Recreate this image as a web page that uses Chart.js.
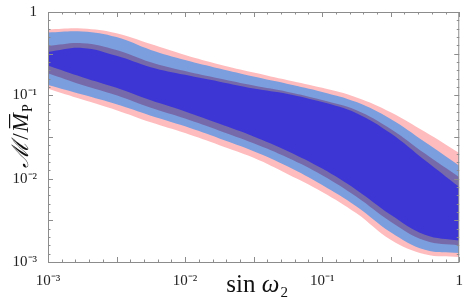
<!DOCTYPE html>
<html>
<head>
<meta charset="utf-8">
<script src="https://cdn.jsdelivr.net/npm/chart.js@4.4.1/dist/chart.umd.min.js"></script>
<style>
  html, body { margin: 0; padding: 0; background: #fff; }
  #wrap { width: 465px; height: 300px; }
</style>
</head>
<body>
<div id="wrap"><canvas id="myChart" width="465" height="300"></canvas></div>
<script>
// sin(omega_2) sample points
const sinW = [0.001, 0.00178, 0.00316, 0.00562, 0.01, 0.0178, 0.0316, 0.0562, 0.1, 0.178, 0.316, 0.562, 1];

// band edges, M / Mbar_P
const pinkUpper   = [0.617, 0.633, 0.555, 0.412, 0.305, 0.235, 0.188, 0.152, 0.123, 0.0944, 0.0628, 0.0365, 0.0203];
const lightUpper  = [0.569, 0.584, 0.500, 0.351, 0.266, 0.210, 0.168, 0.137, 0.110, 0.0830, 0.0520, 0.0275, 0.0143];
const purpleUpper = [0.391, 0.423, 0.351, 0.250, 0.196, 0.159, 0.131, 0.110, 0.0880, 0.0663, 0.0395, 0.0200, 0.0104];
const innerUpper  = [0.332, 0.370, 0.298, 0.218, 0.176, 0.146, 0.121, 0.104, 0.0830, 0.0611, 0.0350, 0.0166, 0.00794];
const innerLower  = [0.228, 0.165, 0.123, 0.0870, 0.0640, 0.0455, 0.0321, 0.0214, 0.0132, 0.00733, 0.00370, 0.00213, 0.00181];
const purpleLower = [0.184, 0.133, 0.100, 0.0710, 0.0527, 0.0377, 0.0266, 0.0178, 0.0110, 0.00607, 0.00305, 0.00181, 0.00158];
const lightLower  = [0.133, 0.102, 0.0779, 0.0570, 0.0425, 0.0304, 0.0214, 0.0140, 0.00837, 0.00464, 0.00228, 0.00140, 0.00128];
const pinkLower   = [0.120, 0.0891, 0.0663, 0.0475, 0.0352, 0.0252, 0.0178, 0.0113, 0.00694, 0.00384, 0.00185, 0.00124, 0.00115];

const decades = [-3, -2, -1, 0];

const sup = {'-': '\u207B', '0': '\u2070', '1': '\u00B9', '2': '\u00B2', '3': '\u00B3'};
function powLabel(n) {
    if (n === 0) return '1';
    return '10' + String(n).split('').map(c => sup[c]).join('');
}
function tickCb(value) {
    const l = Math.log10(value);
    const r = Math.round(l);
    if (Math.abs(l - r) < 1e-6 && decades.includes(r)) return powLabel(r);
    return '';
}

function pts(ys) {
    return sinW.map((x, i) => ({x: x, y: ys[i]}));
}
function edge(ys, color, fill) {
    return {
        data: pts(ys),
        borderWidth: 0.01,
        borderColor: 'rgba(0,0,0,0)',
        backgroundColor: color,
        pointRadius: 0,
        tension: 0.4,
        fill: fill
    };
}

// first dataset is drawn on top
const datasets = [
    edge(innerUpper, 'rgb(61, 54, 212)', '+1'),
    edge(innerLower, 'rgb(61, 54, 212)', false),
    edge(purpleUpper, 'rgb(118, 106, 170)', '+1'),
    edge(purpleLower, 'rgb(118, 106, 170)', false),
    edge(lightUpper, 'rgb(123, 158, 222)', '+1'),
    edge(lightLower, 'rgb(123, 158, 222)', false),
    edge(pinkUpper, 'rgb(255, 188, 190)', '+1'),
    edge(pinkLower, 'rgb(255, 188, 190)', false)
];

// frame, inward ticks (long every half decade, short every tenth), axis titles
const frameTicks = {
    id: 'frameTicks',
    afterDraw(chart) {
        const {ctx, chartArea: a, scales: {x, y}} = chart;
        ctx.save();
        ctx.strokeStyle = '#8c8c8c';
        ctx.lineWidth = 1;
        ctx.strokeRect(a.left + 0.5, a.top + 0.5, a.right - a.left - 1, a.bottom - a.top);
        ctx.beginPath();
        for (let k = -30; k <= 0; k++) {
            const v = Math.pow(10, k / 10);
            const len = (k % 5 === 0) ? 5 : 2.5;
            const px = Math.round(x.getPixelForValue(v)) + 0.5;
            ctx.moveTo(px, a.bottom); ctx.lineTo(px, a.bottom - len);
            ctx.moveTo(px, a.top); ctx.lineTo(px, a.top + len);
            const py = Math.round(y.getPixelForValue(v)) + 0.5;
            ctx.moveTo(a.left, py); ctx.lineTo(a.left + len, py);
            ctx.moveTo(a.right, py); ctx.lineTo(a.right - len, py);
        }
        ctx.stroke();

        ctx.fillStyle = '#111';
        ctx.textBaseline = 'alphabetic';

        // x axis title: sin omega_2
        const up = '25px "Liberation Serif"';
        const it = 'italic 25px "Liberation Serif"';
        const sub = '15px "Liberation Serif"';
        ctx.font = up;
        const s1 = ctx.measureText('sin ').width;
        ctx.font = it;
        const s2 = ctx.measureText('\u03C9').width;
        ctx.font = sub;
        const s3 = ctx.measureText('2').width;
        let tx = (a.left + a.right) / 2 + 3 - (s1 + s2 + s3) / 2;
        const ty = 292;
        ctx.font = up; ctx.fillText('sin ', tx, ty); tx += s1;
        ctx.font = it; ctx.fillText('\u03C9', tx, ty); tx += s2 + 1;
        ctx.font = sub; ctx.fillText('2', tx, ty + 5);

        // y axis title: script M over M-bar with subscript P
        ctx.translate(28, 136);
        ctx.rotate(-Math.PI / 2);
        const big = 'italic 23px "Liberation Serif"';
        const mid = '23px "Liberation Serif"';
        const small = '14px "Liberation Serif"';
        ctx.font = big;
        const w0 = ctx.measureText('\u2133').width;
        ctx.font = mid;
        const w1 = ctx.measureText('/').width;
        ctx.font = big;
        const w2 = ctx.measureText('M').width;
        ctx.font = small;
        const w3 = ctx.measureText('P').width;
        let cx = -(w0 + w1 + w2 + w3 + 3) / 2;
        ctx.font = big; ctx.fillText('\u2133', cx, 0); cx += w0 + 1;
        ctx.font = mid; ctx.fillText('/', cx, 0); cx += w1 + 1;
        ctx.font = big; ctx.fillText('M', cx, 0);
        ctx.fillRect(cx + 4, -19, w2 - 5, 1.2);
        cx += w2 + 1;
        ctx.font = small; ctx.fillText('P', cx, 4);
        ctx.restore();
    }
};

const config = {
    type: 'line',
    data: {datasets},
    options: {
        responsive: false,
        animation: false,
        layout: {padding: {top: 5, right: 2, left: 0, bottom: 0}},
        plugins: {
            legend: {display: false},
            tooltip: {enabled: false},
            filler: {propagate: false}
        },
        scales: {
            x: {
                type: 'logarithmic',
                min: 0.001,
                max: 1,
                grid: {display: false},
                border: {display: false},
                ticks: {
                    autoSkip: false,
                    maxRotation: 0,
                    padding: 2,
                    color: '#222',
                    font: {family: 'Liberation Serif', size: 15},
                    callback: tickCb
                },
                afterFit: s => { s.height = 38; }
            },
            y: {
                type: 'logarithmic',
                min: 0.001,
                max: 1,
                grid: {display: false},
                border: {display: false},
                ticks: {
                    autoSkip: false,
                    padding: 3,
                    color: '#222',
                    font: {family: 'Liberation Serif', size: 15},
                    callback: tickCb
                },
                afterFit: s => { s.width = 48; }
            }
        }
    },
    plugins: [frameTicks]
};

const graphe = new Chart(document.getElementById('myChart'), config);
</script>
</body>
</html>
